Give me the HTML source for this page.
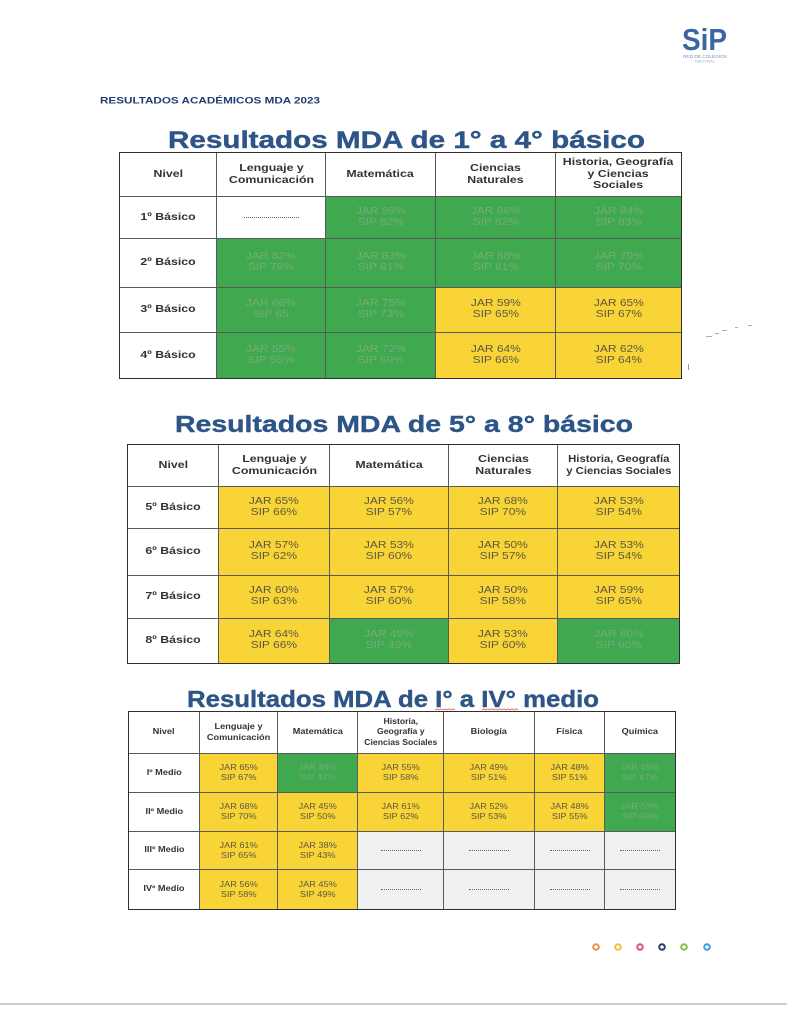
<!DOCTYPE html>
<html>
<head>
<meta charset="utf-8">
<style>
html,body{margin:0;padding:0;background:#fff;}
body{width:791px;height:1024px;position:relative;overflow:hidden;font-family:"Liberation Sans",Arial,sans-serif;}
.t{position:absolute;display:grid;outline:1.8px solid #2e2e2e;}
.t>div{border-right:1px solid #5a5a5a;border-bottom:1px solid #5a5a5a;display:flex;align-items:center;justify-content:center;text-align:center;box-sizing:border-box;background:#fff;}
.t1>div:nth-child(5n),.t2>div:nth-child(5n){border-right:none;}
.t3>div:nth-child(7n){border-right:none;}
.t1>div:nth-last-child(-n+5),.t2>div:nth-last-child(-n+5){border-bottom:none;}
.t3>div:nth-last-child(-n+7){border-bottom:none;}
.t span{display:inline-block;white-space:nowrap;}
.t1 span,.t2 span{transform:scaleX(1.2);}
.t1 .h,.t2 .h{font-size:10.3px;line-height:11.4px;font-weight:bold;color:#333;}
.t1 .d,.t2 .d{font-size:10px;line-height:10.6px;}
.t3 span{transform:scaleX(1.15);}
.t3 .h{font-size:8px;line-height:10.2px;font-weight:bold;color:#333;}
.t3 .d{font-size:8px;line-height:10px;}
.t>div.g{background:#40a94f;color:#76ab78;}
.t>div.y{background:#f8d436;color:#5c5846;}
.t>div.e{background:#eef0f1;}
.dash{width:55px;border-top:1px dotted #666;}
.t3 .dash{width:40px;}
svg{position:absolute;left:0;top:0;}
</style>
</head>
<body>

<svg width="791" height="1024" viewBox="0 0 791 1024" xmlns="http://www.w3.org/2000/svg">
  <text x="682" y="50" font-family="Liberation Sans, Arial, sans-serif" font-weight="bold" font-size="31" fill="#3a67a2" textLength="45" lengthAdjust="spacingAndGlyphs">SiP</text>
  <text x="683" y="58" font-family="Liberation Sans, Arial, sans-serif" font-size="4.5" fill="#7890b8" textLength="44" lengthAdjust="spacingAndGlyphs">RED DE COLEGIOS</text>
  <text x="695" y="62.5" font-family="Liberation Sans, Arial, sans-serif" font-size="3.5" fill="#9aaac8" textLength="20" lengthAdjust="spacingAndGlyphs">NACIONAL</text>
  <text x="100" y="103.5" font-family="Liberation Sans, Arial, sans-serif" font-weight="bold" font-size="9" fill="#1e3d72" textLength="220" lengthAdjust="spacingAndGlyphs">RESULTADOS ACADÉMICOS MDA 2023</text>
  <text x="168" y="148" font-family="Liberation Sans, Arial, sans-serif" font-weight="bold" font-size="24" fill="#2e5587" stroke="#2e5587" stroke-width="0.4" textLength="477" lengthAdjust="spacingAndGlyphs">Resultados MDA de 1° a 4° básico</text>
  <text x="175" y="432" font-family="Liberation Sans, Arial, sans-serif" font-weight="bold" font-size="23.5" fill="#2e5587" stroke="#2e5587" stroke-width="0.4" textLength="458" lengthAdjust="spacingAndGlyphs">Resultados MDA de 5° a 8° básico</text>
  <text x="187" y="707" font-family="Liberation Sans, Arial, sans-serif" font-weight="bold" font-size="23.5" fill="#2e5587" stroke="#2e5587" stroke-width="0.4" textLength="412" lengthAdjust="spacingAndGlyphs">Resultados MDA de I° a IV° medio</text>
  <polyline points="435,710 437,708.8 439,710 441,708.8 443,710 445,708.8 447,710 449,708.8 451,710 453,708.8 455,710" fill="none" stroke="#e05a5a" stroke-width="0.8"/>
  <polyline points="482,710 484,708.8 486,710 488,708.8 490,710 492,708.8 494,710 496,708.8 498,710 500,708.8 502,710 504,708.8 506,710 508,708.8 510,710 512,708.8 514,710 516,708.8 518,710" fill="none" stroke="#e05a5a" stroke-width="0.8"/>
  <g fill="#9a9a9a">
    <rect x="706" y="336" width="6" height="0.8"/>
    <rect x="715" y="333" width="4" height="0.8"/>
    <rect x="722" y="330" width="5" height="0.8"/>
    <rect x="735" y="327" width="3" height="0.8"/>
    <rect x="748" y="325" width="4" height="0.8"/>
    <rect x="688" y="364" width="1" height="6"/>
  </g>
  <g fill="#fff" stroke-width="2">
    <circle cx="596" cy="947" r="2.8" stroke="#e8914c"/>
    <circle cx="618" cy="947" r="2.8" stroke="#f0c23a"/>
    <circle cx="640" cy="947" r="2.8" stroke="#d9556a"/>
    <circle cx="662" cy="947" r="2.8" stroke="#263d6a"/>
    <circle cx="684" cy="947" r="2.8" stroke="#8dba45"/>
    <circle cx="707" cy="947" r="2.8" stroke="#3b9ee0"/>
  </g>
  <line x1="0" y1="1004" x2="787" y2="1004" stroke="#bdbdbd" stroke-width="1.5"/>
</svg>

<div class="t t1" style="left:120px;top:153px;grid-template-columns:97px 109px 110px 120px 125px;grid-template-rows:44px 42px 49px 45px 45px;">
  <div class="h"><span>Nivel</span></div>
  <div class="h"><span>Lenguaje y<br>Comunicación</span></div>
  <div class="h"><span>Matemática</span></div>
  <div class="h"><span>Ciencias<br>Naturales</span></div>
  <div class="h"><span>Historia, Geografía<br>y Ciencias<br>Sociales</span></div>

  <div class="h"><span>1º Básico</span></div>
  <div class="d"><div class="dash"></div></div>
  <div class="d g"><span>JAR 89%<br>SIP 82%</span></div>
  <div class="d g"><span>JAR 86%<br>SIP 82%</span></div>
  <div class="d g"><span>JAR 84%<br>SIP 83%</span></div>

  <div class="h"><span>2º Básico</span></div>
  <div class="d g"><span>JAR 82%<br>SIP 78%</span></div>
  <div class="d g"><span>JAR 83%<br>SIP 81%</span></div>
  <div class="d g"><span>JAR 88%<br>SIP 81%</span></div>
  <div class="d g"><span>JAR 79%<br>SIP 70%</span></div>

  <div class="h"><span>3º Básico</span></div>
  <div class="d g"><span>JAR 66%<br>SIP 65</span></div>
  <div class="d g"><span>JAR 75%<br>SIP 73%</span></div>
  <div class="d y"><span>JAR 59%<br>SIP 65%</span></div>
  <div class="d y"><span>JAR 65%<br>SIP 67%</span></div>

  <div class="h"><span>4º Básico</span></div>
  <div class="d g"><span>JAR 55%<br>SIP 55%</span></div>
  <div class="d g"><span>JAR 72%<br>SIP 69%</span></div>
  <div class="d y"><span>JAR 64%<br>SIP 66%</span></div>
  <div class="d y"><span>JAR 62%<br>SIP 64%</span></div>
</div>

<div class="t t2" style="left:128px;top:445px;grid-template-columns:91px 111px 119px 109px 121px;grid-template-rows:42px 42px 47px 43px 44px;">
  <div class="h"><span>Nivel</span></div>
  <div class="h"><span>Lenguaje y<br>Comunicación</span></div>
  <div class="h"><span>Matemática</span></div>
  <div class="h"><span>Ciencias<br>Naturales</span></div>
  <div class="h"><span style="transform:scaleX(1.1)">Historia, Geografía<br>y Ciencias Sociales</span></div>

  <div class="h"><span>5º Básico</span></div>
  <div class="d y"><span>JAR 65%<br>SIP 66%</span></div>
  <div class="d y"><span>JAR 56%<br>SIP 57%</span></div>
  <div class="d y"><span>JAR 68%<br>SIP 70%</span></div>
  <div class="d y"><span>JAR 53%<br>SIP 54%</span></div>

  <div class="h"><span>6º Básico</span></div>
  <div class="d y"><span>JAR 57%<br>SIP 62%</span></div>
  <div class="d y"><span>JAR 53%<br>SIP 60%</span></div>
  <div class="d y"><span>JAR 50%<br>SIP 57%</span></div>
  <div class="d y"><span>JAR 53%<br>SIP 54%</span></div>

  <div class="h"><span>7º Básico</span></div>
  <div class="d y"><span>JAR 60%<br>SIP 63%</span></div>
  <div class="d y"><span>JAR 57%<br>SIP 60%</span></div>
  <div class="d y"><span>JAR 50%<br>SIP 58%</span></div>
  <div class="d y"><span>JAR 59%<br>SIP 65%</span></div>

  <div class="h"><span>8º Básico</span></div>
  <div class="d y"><span>JAR 64%<br>SIP 66%</span></div>
  <div class="d g"><span>JAR 49%<br>SIP 49%</span></div>
  <div class="d y"><span>JAR 53%<br>SIP 60%</span></div>
  <div class="d g"><span>JAR 60%<br>SIP 60%</span></div>
</div>

<div class="t t3" style="left:129px;top:712px;grid-template-columns:71px 78px 80px 86px 91px 70px 70px;grid-template-rows:42px 39px 39px 38px 39px;">
  <div class="h"><span>Nivel</span></div>
  <div class="h"><span>Lenguaje y<br>Comunicación</span></div>
  <div class="h"><span>Matemática</span></div>
  <div class="h"><span style="transform:scaleX(1.08)">Historia,<br>Geografía y<br>Ciencias Sociales</span></div>
  <div class="h"><span>Biología</span></div>
  <div class="h"><span>Física</span></div>
  <div class="h"><span>Química</span></div>

  <div class="h"><span>Iº Medio</span></div>
  <div class="d y"><span>JAR 65%<br>SIP 67%</span></div>
  <div class="d g"><span>JAR 49%<br>SIP 47%</span></div>
  <div class="d y"><span>JAR 55%<br>SIP 58%</span></div>
  <div class="d y"><span>JAR 49%<br>SIP 51%</span></div>
  <div class="d y"><span>JAR 48%<br>SIP 51%</span></div>
  <div class="d g"><span>JAR 49%<br>SIP 47%</span></div>

  <div class="h"><span>IIº Medio</span></div>
  <div class="d y"><span>JAR 68%<br>SIP 70%</span></div>
  <div class="d y"><span>JAR 45%<br>SIP 50%</span></div>
  <div class="d y"><span>JAR 61%<br>SIP 62%</span></div>
  <div class="d y"><span>JAR 52%<br>SIP 53%</span></div>
  <div class="d y"><span>JAR 48%<br>SIP 55%</span></div>
  <div class="d g"><span>JAR 53%<br>SIP 49%</span></div>

  <div class="h"><span>IIIº Medio</span></div>
  <div class="d y"><span>JAR 61%<br>SIP 65%</span></div>
  <div class="d y"><span>JAR 38%<br>SIP 43%</span></div>
  <div class="d e"><div class="dash"></div></div>
  <div class="d e"><div class="dash"></div></div>
  <div class="d e"><div class="dash"></div></div>
  <div class="d e"><div class="dash"></div></div>

  <div class="h"><span>IVº Medio</span></div>
  <div class="d y"><span>JAR 56%<br>SIP 58%</span></div>
  <div class="d y"><span>JAR 45%<br>SIP 49%</span></div>
  <div class="d e"><div class="dash"></div></div>
  <div class="d e"><div class="dash"></div></div>
  <div class="d e"><div class="dash"></div></div>
  <div class="d e"><div class="dash"></div></div>
</div>

</body>
</html>
